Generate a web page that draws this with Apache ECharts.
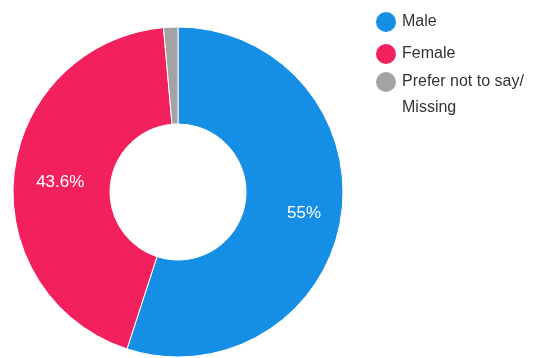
<!DOCTYPE html>
<html><head><meta charset="utf-8">
<script src="https://cdn.jsdelivr.net/npm/echarts@6/dist/echarts.min.js"></script>
<style>html,body{margin:0;padding:0;background:#fff}#c{width:551px;height:358px}</style>
</head><body><div id="c"></div>
<script>
var categories = ['Male', 'Female', 'Prefer not to say/\nMissing'];
var values = [55, 43.6, 1.4];
var labels = ['55%', '43.6%', ''];
var colors = ['#158ee6', '#f2215e', '#a3a3a3'];

var FONT = 'Liberation Sans, Arial, sans-serif';
var legendBase = {
  orient: 'vertical',
  left: 374,
  padding: 0,
  icon: 'circle',
  itemWidth: 22,
  itemHeight: 22,
  itemGap: 8,
  selectedMode: false,
  textStyle: {fontFamily: FONT, fontSize: 16, color: '#333', lineHeight: 18}
};

var chart = echarts.init(document.getElementById('c'));
chart.setOption({
  animation: false,
  color: colors,
  legend: [
    Object.assign({}, legendBase, {top: 10, data: categories.slice(0, 2)}),
    Object.assign({}, legendBase, {
      top: 43,
      data: categories.slice(2),
      formatter: function (n) { return ' \n' + n; },
      textStyle: Object.assign({}, legendBase.textStyle, {lineHeight: 26})
    })
  ],
  series: [{
    type: 'pie',
    center: [178, 192],
    radius: [68, 165],
    startAngle: 90,
    clockwise: true,
    itemStyle: {borderColor: '#fff', borderWidth: 1},
    label: {
      position: 'inside',
      color: '#fff',
      fontFamily: FONT,
      fontSize: 17,
      formatter: function (p) { return labels[p.dataIndex]; }
    },
    labelLine: {show: false},
    emphasis: {disabled: true},
    data: categories.map(function (c, i) {
      var d = {name: c, value: values[i]};
      if (i === 0) d.label = {offset: [8, 3]};
      if (i === 1) d.label = {offset: [1, 4]};
      return d;
    })
  }]
});
</script></body></html>
